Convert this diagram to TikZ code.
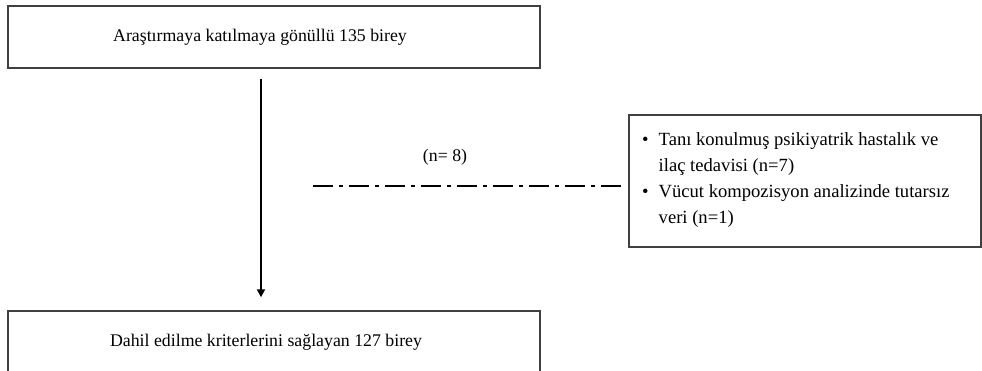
\documentclass[tikz,border=0pt]{standalone}
\usepackage{fontspec}
\setmainfont{Liberation Serif}
\usetikzlibrary{arrows.meta}
\begin{document}
\begin{tikzpicture}[x=1pt,y=-1pt,
  boxstyle/.style={draw=black!75, line width=1.4pt, rectangle, inner sep=0pt},
  txt/.style={font=\fontsize{17.8}{26}\selectfont, inner sep=0pt, text=black},
  rtxtstyle/.style={font=\fontsize{18.6}{26}\selectfont, inner sep=0pt, text=black},
  arrowline/.style={draw=black, line width=1.8pt, -{Triangle[length=8pt,width=8pt]}},
  dashline/.style={draw=black, line width=2pt, dash pattern=on 20pt off 6pt on 4pt off 6pt}]
\useasboundingbox (0,0) rectangle (982,371);
\clip (0,0) rectangle (982,371);
% boxes
\node[boxstyle, minimum width=532pt, minimum height=62pt] (top) at (274,37) {};
\node[txt] (toptxt) at (260,37) {Araştırmaya katılmaya gönüllü 135 birey};
\node[boxstyle, minimum width=532pt, minimum height=90pt] (bot) at (274,356) {};
\node[txt] (bottxt) at (266,342) {Dahil edilme kriterlerini sağlayan 127 birey};
\node[boxstyle, minimum width=352pt, minimum height=132pt] (rbox) at (805,181) {};
\node[rtxtstyle, anchor=north west, align=left] (rtxt) at (642,127) {%
  \begin{tabular}{@{}l@{\hspace{10pt}}l@{}}
  • & Tanı konulmuş psikiyatrik hastalık ve\\
    & ilaç tedavisi (n=7)\\
  • & Vücut kompozisyon analizinde tutarsız\\
    & veri (n=1)
  \end{tabular}};
\node[txt] (nlab) at (445,157) {(n= 8)};
% connectors
\coordinate (ax) at (261,0);
\draw[arrowline, shorten <=10pt, shorten >=13pt] (top.south -| ax) -- (bot.north -| ax);
\coordinate (dl) at (313,186);
\draw[dashline, shorten >=7pt] (dl) -- (dl -| rbox.west);
\end{tikzpicture}
\end{document}
